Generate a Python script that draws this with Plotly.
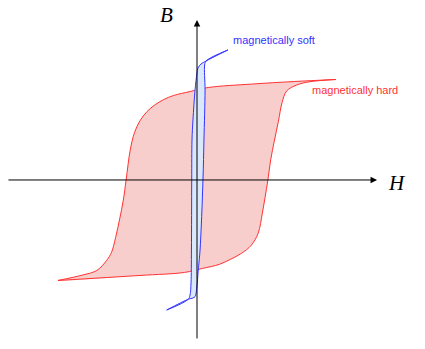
import plotly.graph_objects as go

# ---- data (arbitrary units, H horizontal, B vertical) ----
hard_down_H = [1.00, 0.70, 0.40, 0.08, -0.05, -0.17, -0.24, -0.30, -0.36, -0.41, -0.45, -0.48, -0.51,
               -0.53, -0.555, -0.585, -0.615, -0.65, -0.72, -0.82, -1.00]
hard_down_B = [1.00, 0.98, 0.955, 0.92, 0.88, 0.84, 0.80, 0.75, 0.68, 0.59, 0.47, 0.30, 0.00,
               -0.20, -0.38, -0.57, -0.72, -0.80, -0.90, -0.945, -1.00]
hard_up_H = [-1.00, -0.41, -0.09, 0.04, 0.16, 0.24, 0.32, 0.39, 0.44, 0.47, 0.49, 0.51,
             0.53, 0.555, 0.585, 0.612, 0.645, 0.717, 0.813, 1.00]
hard_up_B = [-1.00, -0.95, -0.92, -0.88, -0.84, -0.79, -0.73, -0.65, -0.53, -0.33, -0.17, 0.00,
             0.20, 0.38, 0.58, 0.77, 0.885, 0.945, 0.978, 1.00]

soft_down_H = [0.223, 0.065, 0.029, 0.007, 0.000, -0.014, -0.029, -0.036, -0.038, -0.040, -0.043, -0.050, -0.063, -0.218]
soft_down_B = [1.294, 1.184, 1.154, 1.114, 1.065, 0.896, 0.597, 0.398, 0.000, -0.697, -1.025, -1.144, -1.187, -1.294]
soft_up_H = [-0.218, -0.063, -0.029, -0.014, -0.002, 0.009, 0.022, 0.043, 0.050, 0.058, 0.055, 0.065, 0.223]
soft_up_B = [-1.294, -1.187, -1.174, -1.161, -1.078, -0.896, -0.697, 0.000, 0.398, 0.896, 1.144, 1.184, 1.294]

labels = ["magnetically hard", "magnetically soft"]
axis_names = ["H", "B"]

RED, RED_FILL = "#FF3333", "#F8CECC"
BLUE, BLUE_FILL = "#3333FF", "#DAE8FC"

fig = go.Figure()

def loop(dh, db, uh, ub, color, fill):
    fig.add_trace(go.Scatter(x=dh + uh[1:], y=db + ub[1:], mode="lines",
                             line=dict(width=0, shape="spline", color=color),
                             fill="toself", fillcolor=fill, hoverinfo="skip"))
    for hx, by in ((dh, db), (uh, ub)):
        fig.add_trace(go.Scatter(x=hx, y=by, mode="lines",
                                 line=dict(width=1, shape="spline", color=color)))

loop(hard_down_H, hard_down_B, hard_up_H, hard_up_B, RED, RED_FILL)
loop(soft_down_H, soft_down_B, soft_up_H, soft_up_B, BLUE, BLUE_FILL)

ann = []
# axes arrows
ann.append(dict(x=1.295, y=0, ax=-1.367, ay=0, xref="x", yref="y", axref="x", ayref="y",
                text="", showarrow=True, arrowhead=2, arrowsize=1.3, arrowwidth=1, arrowcolor="#000"))
ann.append(dict(x=0, y=1.592, ax=0, ay=-1.592, xref="x", yref="y", axref="x", ayref="y",
                text="", showarrow=True, arrowhead=2, arrowsize=1.3, arrowwidth=1, arrowcolor="#000"))
ann.append(dict(x=1.439, y=-0.03, text="<i>" + axis_names[0] + "</i>", showarrow=False,
                font=dict(family="Liberation Serif", size=21, color="#000")))
ann.append(dict(x=-0.223, y=1.642, text="<i>" + axis_names[1] + "</i>", showarrow=False,
                font=dict(family="Liberation Serif", size=21, color="#000")))
ann.append(dict(x=0.813, y=0.896, text=labels[0], showarrow=False, xanchor="left",
                font=dict(family="Liberation Sans", size=11, color=RED)))
ann.append(dict(x=0.245, y=1.393, text=labels[1], showarrow=False, xanchor="left",
                font=dict(family="Liberation Sans", size=11, color=BLUE)))

fig.update_layout(width=425, height=349, margin=dict(l=0, r=0, t=0, b=0),
                  paper_bgcolor="white", plot_bgcolor="white", showlegend=False,
                  annotations=ann,
                  xaxis=dict(range=[-1.417, 1.640], visible=False, fixedrange=True),
                  yaxis=dict(range=[-1.682, 1.791], visible=False, fixedrange=True))
fig.write_html("out.html")
